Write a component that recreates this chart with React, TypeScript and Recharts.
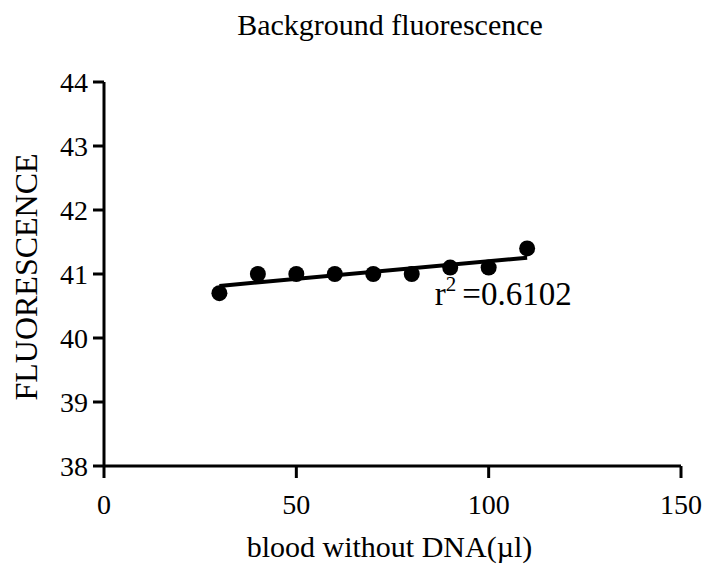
import React from 'react';
import { ComposedChart, XAxis, YAxis, Scatter, Line, ReferenceDot } from 'recharts';

const volumes = [30, 40, 50, 60, 70, 80, 90, 100, 110];
const fluorescence = [40.7, 41.0, 41.0, 41.0, 41.0, 41.0, 41.1, 41.1, 41.4];
const xTicks = [0, 50, 100, 150];
const yTicks = [38, 39, 40, 41, 42, 43, 44];
const rSquaredText = '=0.6102';
const annotationAt = { x: 86, y: 40.52 };

const points = volumes.map((v, i) => ({ x: v, y: fluorescence[i] }));

// least-squares fit of the points
const n = volumes.length;
const mx = volumes.reduce((a, b) => a + b, 0) / n;
const my = fluorescence.reduce((a, b) => a + b, 0) / n;
let sxy = 0, sxx = 0;
for (let i = 0; i < n; i++) {
  sxy += (volumes[i] - mx) * (fluorescence[i] - my);
  sxx += (volumes[i] - mx) ** 2;
}
const slope = sxy / sxx;
const intercept = my - slope * mx;
const fit = [volumes[0], volumes[n - 1]].map((x) => ({ x, fit: intercept + slope * x }));

const FONT = '"Liberation Serif", "Times New Roman", serif';
const serif = { fontFamily: FONT };

const XTick = (p: any) => (
  <text x={p.x} y={p.y} dy={20} textAnchor="middle" fill="#000" fontSize={28} style={serif}>
    {p.payload.value}
  </text>
);
const YTick = (p: any) => (
  <text x={p.x} y={p.y} dy={10} textAnchor="end" fill="#000" fontSize={28} style={serif}>
    {p.payload.value}
  </text>
);

export default function App() {
  return (
    <div style={{ position: 'absolute', left: 0, top: 0, width: 706, height: 568, background: '#fff' }}>
      <div
        style={{
          position: 'absolute', left: 390, top: 10, transform: 'translateX(-50%)',
          fontFamily: FONT, fontSize: 30, lineHeight: '30px', whiteSpace: 'nowrap', color: '#000',
        }}
      >
        Background fluorescence
      </div>
      <ComposedChart width={706} height={568} margin={{ top: 82, right: 25, bottom: 0, left: 0 }} style={serif}>
        <XAxis
          type="number"
          dataKey="x"
          domain={[0, 150]}
          ticks={xTicks}
          allowDataOverflow
          height={102}
          stroke="#000"
          axisLine={{ stroke: '#000', strokeWidth: 3 }}
          tickLine={{ stroke: '#000', strokeWidth: 3 }}
          tickSize={12}
          tickMargin={16}
          tick={<XTick />}
          label={{
            content: (props: any) => {
              const vb = props.viewBox;
              return (
                <text x={vb.x + vb.width / 2 - 3} y={557} textAnchor="middle" fill="#000" fontSize={30} style={serif}>
                  blood without DNA(µl)
                </text>
              );
            },
          }}
        />
        <YAxis
          type="number"
          domain={[38, 44]}
          ticks={yTicks}
          allowDataOverflow
          width={104}
          stroke="#000"
          axisLine={{ stroke: '#000', strokeWidth: 3 }}
          tickLine={{ stroke: '#000', strokeWidth: 3 }}
          tickSize={11}
          tickMargin={5}
          tick={<YTick />}
          label={{
            content: () => {
              const cy = 277;
              return (
                <text x={37} y={cy} transform={`rotate(-90, 37, ${cy})`} textAnchor="middle" fill="#000" fontSize={32} style={serif}>
                  FLUORESCENCE
                </text>
              );
            },
          }}
        />
        <Line
          data={fit}
          dataKey="fit"
          type="linear"
          stroke="#000"
          strokeWidth={4}
          dot={false}
          activeDot={false}
          isAnimationActive={false}
        />
        <Scatter data={points} dataKey="y" fill="#000" isAnimationActive={false}
          shape={(p: any) => <circle cx={p.cx} cy={p.cy} r={8} fill="#000" />} />
        <ReferenceDot
          x={annotationAt.x}
          y={annotationAt.y}
          r={1}
          fill="none"
          stroke="none"
          label={{
            content: (props: any) => {
              const vb = props.viewBox;
              const x = vb.x + (vb.width || 0) / 2;
              const y = vb.y + (vb.height || 0) / 2;
              return (
                <text x={x} y={y} fill="#000" fontSize={33} style={serif}>
                  r
                  <tspan fontSize={21} dy={-14}>2</tspan>
                  <tspan dx={6} dy={14}>{rSquaredText}</tspan>
                </text>
              );
            },
          }}
        />
      </ComposedChart>
    </div>
  );
}
